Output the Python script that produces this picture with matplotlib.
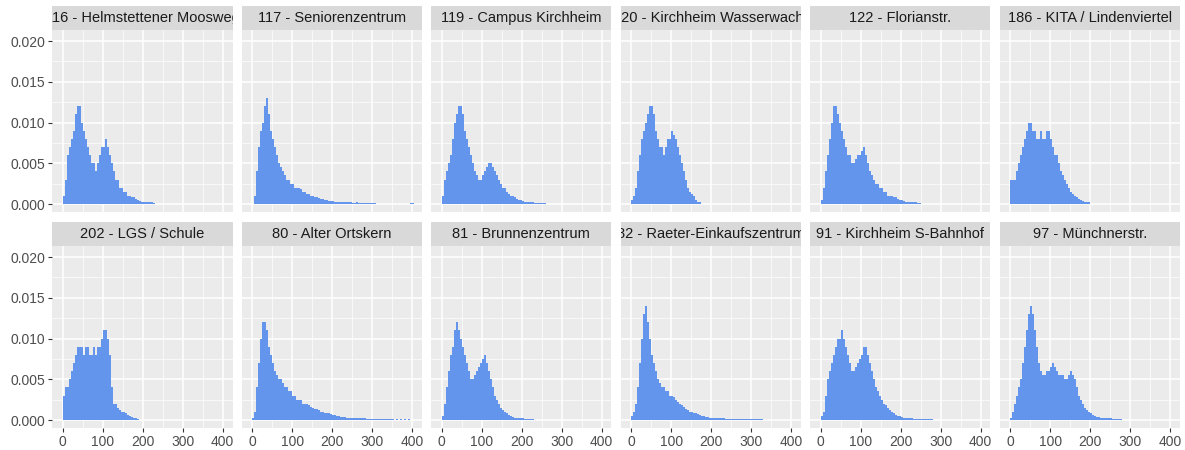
import matplotlib
matplotlib.use("Agg")
import matplotlib.pyplot as plt
import numpy as np

plt.rcParams["font.family"] = ["Liberation Sans", "DejaVu Sans"]

BIN_WIDTH = 5  # x units per bar

# station titles, in facet order
stations = [
    "116 - Helmstettener Moosweg", "117 - Seniorenzentrum", "119 - Campus Kirchheim",
    "120 - Kirchheim Wasserwacht", "122 - Florianstr.", "186 - KITA / Lindenviertel",
    "202 - LGS / Schule", "80 - Alter Ortskern", "81 - Brunnenzentrum",
    "82 - Raeter-Einkaufszentrum", "91 - Kirchheim S-Bahnhof", "97 - Münchnerstr.",
]

# density per 5-unit bin (x 1e-3)
d116 = [1, 3, 6, 7, 8, 9, 11, 12, 12, 10, 9, 8, 7, 6, 5, 5, 4, 5, 6, 7, 7, 8, 7, 6, 5, 4, 3, 3, 2, 2,
        1.5, 1.5, 1, 1, 0.8, 0.8, 0.6, 0.5, 0.4, 0.3, 0.3, 0.3, 0.2, 0.2, 0.2, 0.1]
d117 = [0, 1, 4, 7, 9, 10, 12, 13, 11, 9, 8, 7, 6, 5, 4.5, 4, 3.5, 3, 3, 2.5, 2.5, 2, 2, 2, 1.8, 1.5,
        1.5, 1.2, 1.2, 1, 1, 0.8, 0.8, 0.7, 0.6, 0.6, 0.5, 0.5, 0.4, 0.4, 0.4, 0.3, 0.3, 0.3, 0.3,
        0.2, 0.2, 0.2, 0.2, 0.2, 0.1, 0.1, 0.2, 0.1, 0.1, 0.1, 0.1, 0.1, 0.1, 0.1, 0.1, 0.1, 0, 0, 0,
        0, 0, 0, 0, 0, 0, 0, 0, 0, 0, 0, 0, 0, 0, 0.1, 0.1]
d119 = [1, 3, 4, 5, 6, 8, 10, 11, 12, 12, 11, 9, 8, 7, 6, 5, 4, 3.5, 3, 3, 3.5, 4, 4.5, 5, 5, 4.5, 4,
        3.5, 3, 2.5, 2, 2, 1.5, 1.2, 1, 1, 0.8, 0.6, 0.5, 0.5, 0.4, 0.3, 0.3, 0.2, 0.2, 0.2, 0.1,
        0.1, 0.1, 0.1, 0.1, 0.1]
d120 = [0.5, 1, 2, 4, 6, 8, 9, 10, 11, 12, 12, 11, 9, 8, 7, 7, 6, 7, 8, 8, 9, 8.5, 8, 7, 6, 5, 4, 3,
        2, 1.5, 1.2, 1, 0.5, 0.3, 0.2]
d122 = [0.5, 2, 4, 6, 8, 10, 12, 12, 11, 10, 9, 8, 7, 6, 6, 5, 5, 5.5, 6, 6, 6.5, 7, 6, 5, 4, 3.5, 3,
        2.5, 2.5, 2, 2, 1.5, 1.5, 1, 1, 1, 0.8, 0.8, 0.6, 0.5, 0.5, 0.4, 0.3, 0.3, 0.2, 0.2, 0.2,
        0.2, 0.1, 0.1]
d186 = [3, 3, 3, 4, 5, 6, 7, 8, 9, 10, 10, 9, 9, 8, 8, 9, 8, 8, 9, 9, 8, 7, 6, 6, 5, 4, 3.5, 3, 2.5,
        2, 1.5, 1.2, 1, 0.8, 0.6, 0.5, 0.4, 0.3, 0.3, 0.2]
d202 = [3, 4, 4, 5, 6, 7, 8, 9, 9, 9, 8, 9, 9, 8, 8, 9, 8, 9, 9, 10, 11, 11, 10, 8, 4, 2, 2, 1.5, 1.2,
        1, 1, 0.8, 0.6, 0.5, 0.4, 0.3, 0.2, 0.1]
d80 = [0.3, 1, 4, 7, 10, 12, 12, 11, 9, 8, 7, 6, 5.5, 5, 5, 4.5, 4, 4, 3.5, 3.5, 3, 3, 2.5, 2.5, 2.5,
       2, 2, 2, 1.8, 1.6, 1.5, 1.4, 1.3, 1.2, 1, 1, 0.9, 0.8, 0.8, 0.7, 0.6, 0.6, 0.5, 0.5, 0.4,
       0.4, 0.4, 0.3, 0.3, 0.3, 0.3, 0.2, 0.2, 0.2, 0.2, 0.2, 0.2, 0.1, 0.1, 0.1, 0.1, 0.1, 0.1,
       0.1, 0.1, 0.1, 0.1, 0.1, 0.1, 0.1, 0.1, 0, 0.1, 0, 0.1, 0, 0.1, 0, 0.1]
d81 = [0.5, 2, 4, 6, 8, 9, 11, 12, 11, 10, 9, 8, 7, 6, 5, 5, 5.5, 6, 6.5, 7, 7.5, 8, 7, 6, 5, 4, 3,
       2.5, 2, 1.5, 1.2, 1, 0.8, 0.6, 0.5, 0.4, 0.3, 0.3, 0.2, 0.2, 0.2, 0.1, 0.1, 0.1, 0.1, 0.1]
d82 = [0.5, 1, 2, 4, 7, 10, 13, 14, 12, 10, 8, 7, 6, 5, 4.5, 4, 4, 3.5, 3.5, 3, 3, 2.8, 2.5, 2.2, 2,
       1.8, 1.6, 1.4, 1.2, 1, 1, 0.9, 0.8, 0.7, 0.6, 0.5, 0.5, 0.4, 0.4, 0.3, 0.3, 0.3, 0.2, 0.2,
       0.2, 0.2, 0.2, 0.1, 0.1, 0.1, 0.1, 0.1, 0.1, 0.1, 0.1, 0.1, 0.1, 0.1, 0.1, 0.1, 0.1, 0.1,
       0.1, 0.1, 0.1, 0.1]
d91 = [0.5, 1, 3, 5, 6, 7, 8, 9, 10, 10, 11, 10, 9, 8, 7, 6, 6, 6.5, 7, 7.5, 8, 9, 9, 8, 7, 6, 5, 4,
       3.5, 3, 2.5, 2, 1.8, 1.5, 1.2, 1, 0.8, 0.6, 0.5, 0.5, 0.4, 0.3, 0.3, 0.2, 0.2, 0.2, 0.1,
       0.1, 0.1, 0.1, 0.1, 0.1, 0.1, 0.1, 0.1, 0.1]
d97 = [0.3, 1, 2, 3, 4, 5, 7, 9, 11, 13, 14, 13, 11, 9, 7, 6, 5.5, 5.5, 6, 6, 6.5, 7, 6.5, 6, 5.5,
       5.5, 5.5, 5, 5, 5.5, 6, 5.5, 5, 4, 3, 2.5, 2, 1.5, 1.2, 1, 0.8, 0.6, 0.5, 0.4, 0.4, 0.3,
       0.3, 0.2, 0.2, 0.2, 0.2, 0.1, 0.1, 0.1, 0.1, 0.1]

densities = [d116, d117, d119, d120, d122, d186, d202, d80, d81, d82, d91, d97]

W, H = 1185, 450
fig = plt.figure(figsize=(W / 100, H / 100), dpi=100)

left0, pw, gap = 52, 180.5, 9
rows = [(6, 30, 212), (222, 246, 428)]  # strip top, panel top, panel bottom (px)

for i, (name, dens) in enumerate(zip(stations, densities)):
    r, c = divmod(i, 6)
    st, pt, pb = rows[r]
    x0 = left0 + c * (pw + gap)
    ax = fig.add_axes([x0 / W, 1 - pb / H, pw / W, (pb - pt) / H])
    sax = fig.add_axes([x0 / W, 1 - pt / H, pw / W, (pt - st) / H])

    sax.set_facecolor("#D9D9D9")
    sax.set_xticks([]); sax.set_yticks([])
    for s in sax.spines.values():
        s.set_visible(False)
    sax.text(0.5, 0.5, name, ha="center", va="center", fontsize=10.5,
             color="#1A1A1A", transform=sax.transAxes, clip_on=True)

    ax.set_facecolor("#EBEBEB")
    ax.set_axisbelow(True)
    for s in ax.spines.values():
        s.set_visible(False)
    ax.set_xlim(-27, 425)
    ax.set_ylim(-0.00098, 0.02135)
    ax.set_xticks([0, 100, 200, 300, 400])
    ax.set_xticks([50, 150, 250, 350], minor=True)
    ax.set_yticks([0, 0.005, 0.010, 0.015, 0.020])
    ax.set_yticks([0.0025, 0.0075, 0.0125, 0.0175], minor=True)
    ax.grid(which="major", color="white", linewidth=1.1)
    ax.grid(which="minor", color="white", linewidth=0.5)
    ax.tick_params(which="both", length=3, color="#333333", labelsize=10,
                   labelcolor="#4D4D4D", pad=2)
    ax.tick_params(which="minor", length=0)
    if c != 0:
        ax.tick_params(axis="y", left=False, labelleft=False)
    else:
        ax.set_yticklabels(["0.000", "0.005", "0.010", "0.015", "0.020"])
    if r == 0:
        ax.tick_params(axis="x", bottom=False, labelbottom=False)

    y = np.array(dens) / 1000.0
    xs = np.arange(len(y)) * BIN_WIDTH
    ax.bar(xs, y, width=BIN_WIDTH, align="edge", color="#6495ED", linewidth=0)

fig.savefig("out.png", dpi=100)
